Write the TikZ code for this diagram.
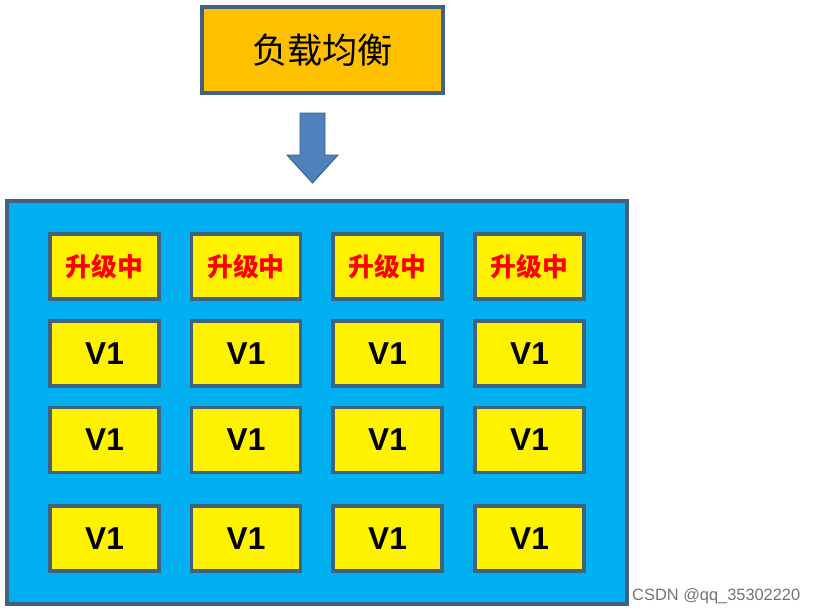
\documentclass[tikz,border=0pt]{standalone}
\usepackage{fontspec}
\setmainfont{Liberation Sans}
\newfontfamily\cjk{Noto Sans CJK SC}
\definecolor{lbfill}{HTML}{FFC000}
\definecolor{poolfill}{HTML}{00B0F0}
\definecolor{edgeblue}{HTML}{41617F}
\definecolor{arrowfill}{HTML}{4F81BD}
\definecolor{arrowedge}{HTML}{385D8A}
\tikzset{
  box/.style={draw=edgeblue, line width=2.9pt, rectangle, inner sep=0pt},
  srv/.style={box, fill=yellow, minimum width=3.27cm, minimum height=1.95cm},
}
\begin{document}
\begin{tikzpicture}[x=0.03cm,y=-0.03cm]
\useasboundingbox (0,0) rectangle (817,614);
% load balancer
\node[box, fill=lbfill, minimum width=7.23cm, minimum height=2.58cm,
      font=\fontsize{30}{32}\selectfont\cjk] (lb) at (322.5,50) {负载均衡};
% block arrow
\filldraw[fill=arrowfill, draw=arrowedge, line width=0.8pt]
  (300,113) -- (325,113) -- (325,155) -- (338,155) -- (312.5,183)
  -- (287,155) -- (300,155) -- cycle;
% server pool
\node[box, fill=poolfill, minimum width=18.6cm, minimum height=12.09cm] (pool) at (317,402.5) {};
\foreach \c/\x in {1/104.5,2/246,3/387.5,4/529.5}{
  \node[srv, text=red, font=\fontsize{22}{24}\selectfont\cjk\bfseries] (up\c) at (\x,266.5) {升级中};
  \foreach \r/\y in {2/353.5,3/440,4/538.5}
    \node[srv, font=\fontsize{27}{29}\selectfont\bfseries] (v\r\c) at (\x,\y) {V1};
}
\node[anchor=west, text=black!55, font=\fontsize{14}{16}\selectfont, inner sep=0pt] (mark) at (632,596) {CSDN @qq\_35302220};
\end{tikzpicture}
\end{document}
